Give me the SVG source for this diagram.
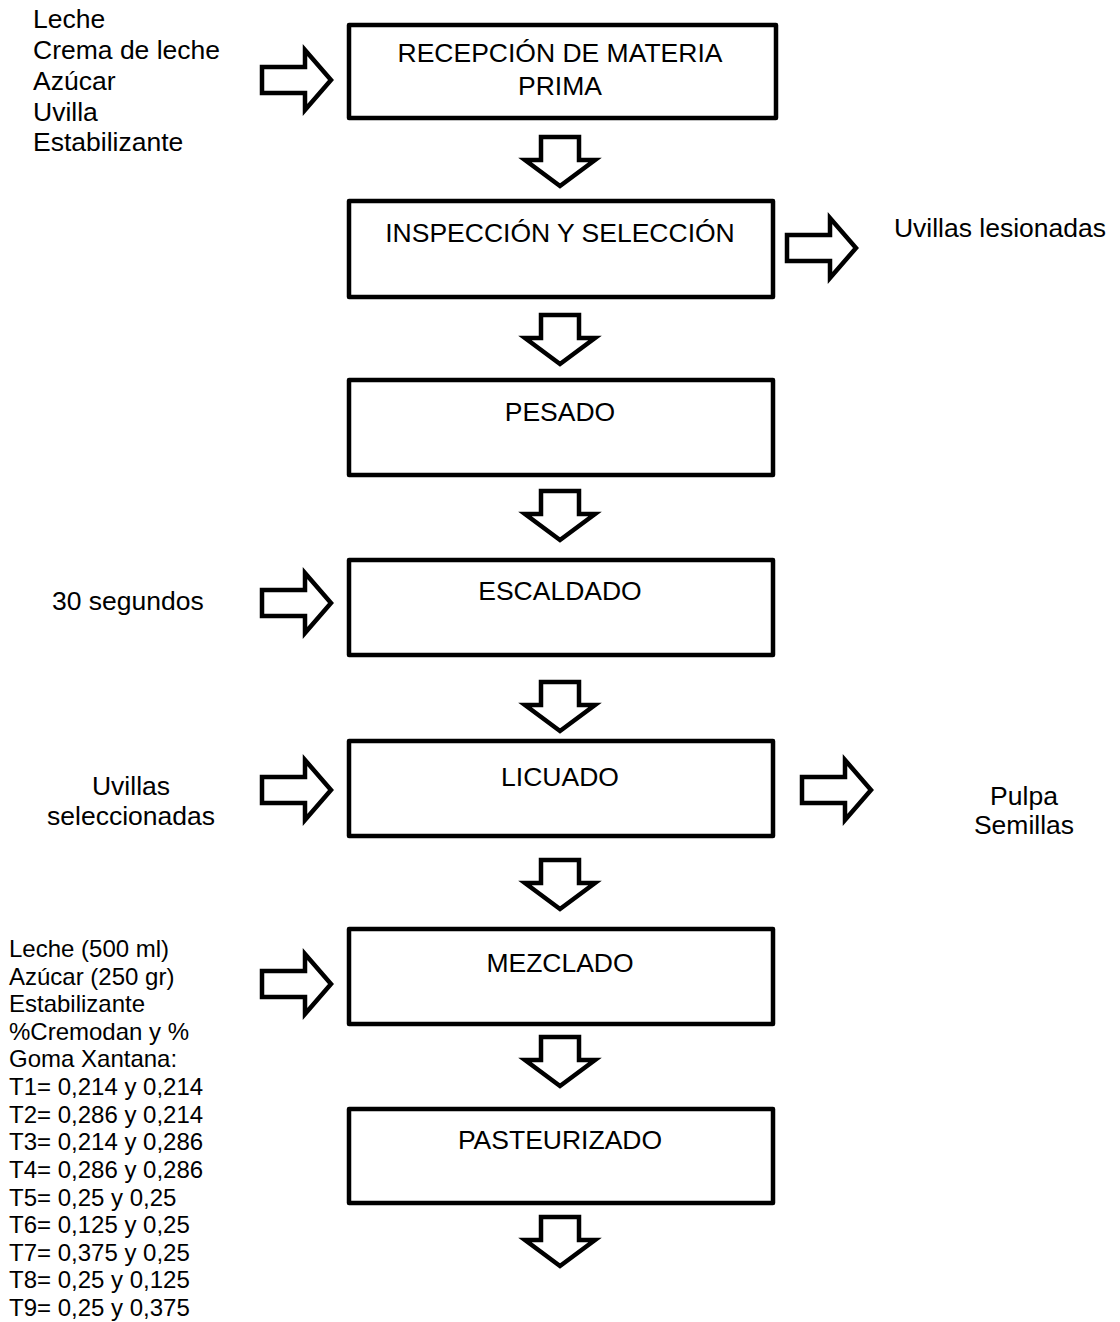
<svg xmlns="http://www.w3.org/2000/svg" width="1120" height="1322" viewBox="0 0 1120 1322">
<style>
  .box { fill: #fff; stroke: #000; stroke-width: 4.5; stroke-linejoin: round; }
  .arr { fill: #fff; stroke: #000; stroke-width: 4.5; stroke-linejoin: miter; }
  text { font-family: "Liberation Sans", Arial, sans-serif; fill: #000; }
  .lbl { font-size: 26.5px; text-anchor: middle; }
  .side { font-size: 26.5px; }
  .small { font-size: 24px; }
</style>
<defs>
  <path id="down" d="M-19,2 H19 V25 H35 L0,51 L-35,25 H-19 Z"/>
  <path id="right" d="M2,-13 H45 V-30 L71,0 L45,30 V13 H2 Z"/>
</defs>
<rect width="1120" height="1322" fill="#fff"/>

<g id="n1">
  <rect class="box" x="349" y="25" width="427" height="93"/>
  <text class="lbl" x="560" y="62">RECEPCIÓN DE MATERIA</text>
  <text class="lbl" x="560" y="95">PRIMA</text>
</g>
<g id="n2">
  <rect class="box" x="349" y="201" width="424" height="96"/>
  <text class="lbl" x="560" y="242">INSPECCIÓN Y SELECCIÓN</text>
</g>
<g id="n3">
  <rect class="box" x="349" y="380" width="424" height="95"/>
  <text class="lbl" x="560" y="421">PESADO</text>
</g>
<g id="n4">
  <rect class="box" x="349" y="560" width="424" height="95"/>
  <text class="lbl" x="560" y="600">ESCALDADO</text>
</g>
<g id="n5">
  <rect class="box" x="349" y="741" width="424" height="95"/>
  <text class="lbl" x="560" y="786">LICUADO</text>
</g>
<g id="n6">
  <rect class="box" x="349" y="929" width="424" height="95"/>
  <text class="lbl" x="560" y="972">MEZCLADO</text>
</g>
<g id="n7">
  <rect class="box" x="349" y="1109" width="424" height="94"/>
  <text class="lbl" x="560" y="1149">PASTEURIZADO</text>
</g>

<g id="inputs">
  <text class="side" x="33" y="28">Leche</text>
  <text class="side" x="33" y="59">Crema de leche</text>
  <text class="side" x="33" y="90">Azúcar</text>
  <text class="side" x="33" y="121">Uvilla</text>
  <text class="side" x="33" y="151">Estabilizante</text>
  <text class="side" x="1000" y="237" text-anchor="middle">Uvillas lesionadas</text>
  <text class="side" x="52" y="610">30 segundos</text>
  <text class="side" x="131" y="795" text-anchor="middle">Uvillas</text>
  <text class="side" x="131" y="825" text-anchor="middle">seleccionadas</text>
  <text class="side" x="1024" y="805" text-anchor="middle">Pulpa</text>
  <text class="side" x="1024" y="834" text-anchor="middle">Semillas</text>
  <text class="small" x="9" y="957">Leche (500 ml)</text>
  <text class="small" x="9" y="985">Azúcar (250 gr)</text>
  <text class="small" x="9" y="1012">Estabilizante</text>
  <text class="small" x="9" y="1040">%Cremodan y %</text>
  <text class="small" x="9" y="1067">Goma Xantana:</text>
  <text class="small" x="9" y="1095">T1= 0,214 y 0,214</text>
  <text class="small" x="9" y="1123">T2= 0,286 y 0,214</text>
  <text class="small" x="9" y="1150">T3= 0,214 y 0,286</text>
  <text class="small" x="9" y="1178">T4= 0,286 y 0,286</text>
  <text class="small" x="9" y="1206">T5= 0,25 y 0,25</text>
  <text class="small" x="9" y="1233">T6= 0,125 y 0,25</text>
  <text class="small" x="9" y="1261">T7= 0,375 y 0,25</text>
  <text class="small" x="9" y="1288">T8= 0,25 y 0,125</text>
  <text class="small" x="9" y="1316">T9= 0,25 y 0,375</text>
</g>

<g id="connectors">
  <use href="#down" class="arr" transform="translate(560,135)"/>
  <use href="#down" class="arr" transform="translate(560,313)"/>
  <use href="#down" class="arr" transform="translate(560,489)"/>
  <use href="#down" class="arr" transform="translate(560,680)"/>
  <use href="#down" class="arr" transform="translate(560,858)"/>
  <use href="#down" class="arr" transform="translate(560,1035)"/>
  <use href="#down" class="arr" transform="translate(560,1215)"/>
  <use href="#right" class="arr" transform="translate(260,80)"/>
  <use href="#right" class="arr" transform="translate(785,248)"/>
  <use href="#right" class="arr" transform="translate(260,603)"/>
  <use href="#right" class="arr" transform="translate(260,790)"/>
  <use href="#right" class="arr" transform="translate(800,790)"/>
  <use href="#right" class="arr" transform="translate(260,984)"/>
</g>
</svg>
